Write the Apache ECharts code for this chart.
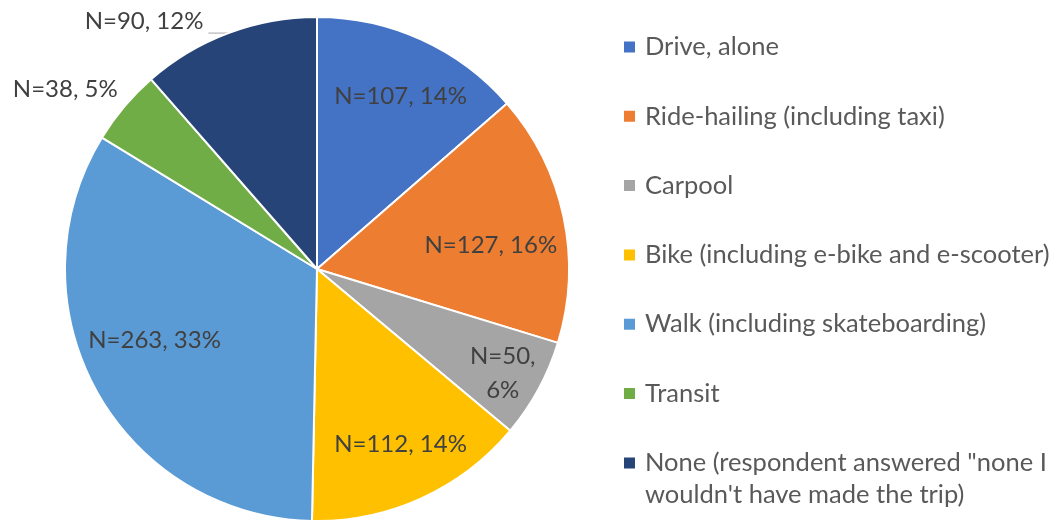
<!DOCTYPE html>
<html>
<head>
<meta charset="utf-8">
<script src="https://cdn.jsdelivr.net/npm/echarts@6/dist/echarts.min.js"></script>
<style>
html, body { margin: 0; padding: 0; background: #fff; }
#main { width: 1060px; height: 521px; }
</style>
</head>
<body>
<div id="main"></div>
<script>
var modes = [
	'Drive, alone',
	'Ride-hailing (including taxi)',
	'Carpool',
	'Bike (including e-bike and e-scooter)',
	'Walk (including skateboarding)',
	'Transit',
	'None (respondent answered "none I wouldn\'t have made the trip)'
];
var counts = [107, 127, 50, 112, 263, 38, 90];
var colors = ['#4472C4', '#ED7D31', '#A5A5A5', '#FFC000', '#5B9BD5', '#70AD47', '#264478'];
// which slices carry their label inside the pie
var label_inside = [true, true, true, true, true, false, false];

var FONT = 'Lato';
var CENTER = [317, 269];
var RADIUS = 252;
// small shifts so labels sit where the original put them
var label_nudge = [[4, 2], [-14, 16], [17, 13], [4, 1], [6, -21], [9, -8], [0, -12]];

var myChart = echarts.init(document.getElementById('main'));

function slice_data(inner){
	var out = [];
	for (var i = 0; i < counts.length; i++){
		var item = {
			name: modes[i],
			value: counts[i],
			label: { show: inner ? label_inside[i] : !label_inside[i] }
		};
		if (!inner) item.itemStyle = { color: colors[i] };
		if (inner && counts[i] < 60) {
			item.label.formatter = 'N={c},\n{d}%';
		}
		if (!inner && i == 6) {
			item.labelLine = { show: true, length: 0, length2: 20, lineStyle: { color: '#a6a6a6', width: 1 } };
		}
		out.push(item);
	}
	return out;
}

function nudge(params){
	var n = label_nudge[params.dataIndex];
	return { dx: n[0], dy: n[1] };
}

var label_style = {
	color: '#404040',
	fontFamily: FONT,
	fontSize: 24,
	lineHeight: 34,
	formatter: 'N={c}, {d}%'
};

var legend_common = {
	orient: 'vertical',
	left: 622,
	padding: 0,
	icon: 'rect',
	itemWidth: 13,
	itemHeight: 13,
	itemGap: 37.3,
	textStyle: { color: '#595959', fontFamily: FONT, fontSize: 25.5, lineHeight: 32, padding: [0, 0, 0, 4] }
};

myChart.setOption({
	animation: false,
	legend: [
		Object.assign({}, legend_common, {
			top: 31,
			data: modes.slice(0, 6)
		}),
		Object.assign({}, legend_common, {
			// empty first line keeps the marker level with the first text line
			top: 415,
			data: modes.slice(6),
			formatter: function(name){
				return '\n' + name.replace('none I ', 'none I\n');
			}
		})
	],
	series: [
		{
			name: 'mode',
			type: 'pie',
			center: CENTER,
			radius: RADIUS,
			startAngle: 90,
			clockwise: true,
			percentPrecision: 0,
			avoidLabelOverlap: false,
			itemStyle: { borderColor: '#fff', borderWidth: 2 },
			label: Object.assign({ position: 'outside' }, label_style),
			labelLine: { show: false, length: 14, length2: 0 },
			labelLayout: nudge,
			data: slice_data(false)
		},
		{
			// transparent twin, only to push the inner labels outward
			name: 'labels',
			type: 'pie',
			center: CENTER,
			radius: RADIUS * 1.5,
			startAngle: 90,
			clockwise: true,
			percentPrecision: 0,
			silent: true,
			emphasis: { disabled: true },
			itemStyle: { color: 'rgba(0,0,0,0)', borderWidth: 0 },
			label: Object.assign({ position: 'inside' }, label_style),
			labelLine: { show: false },
			labelLayout: nudge,
			data: slice_data(true)
		}
	]
});
</script>
</body>
</html>
